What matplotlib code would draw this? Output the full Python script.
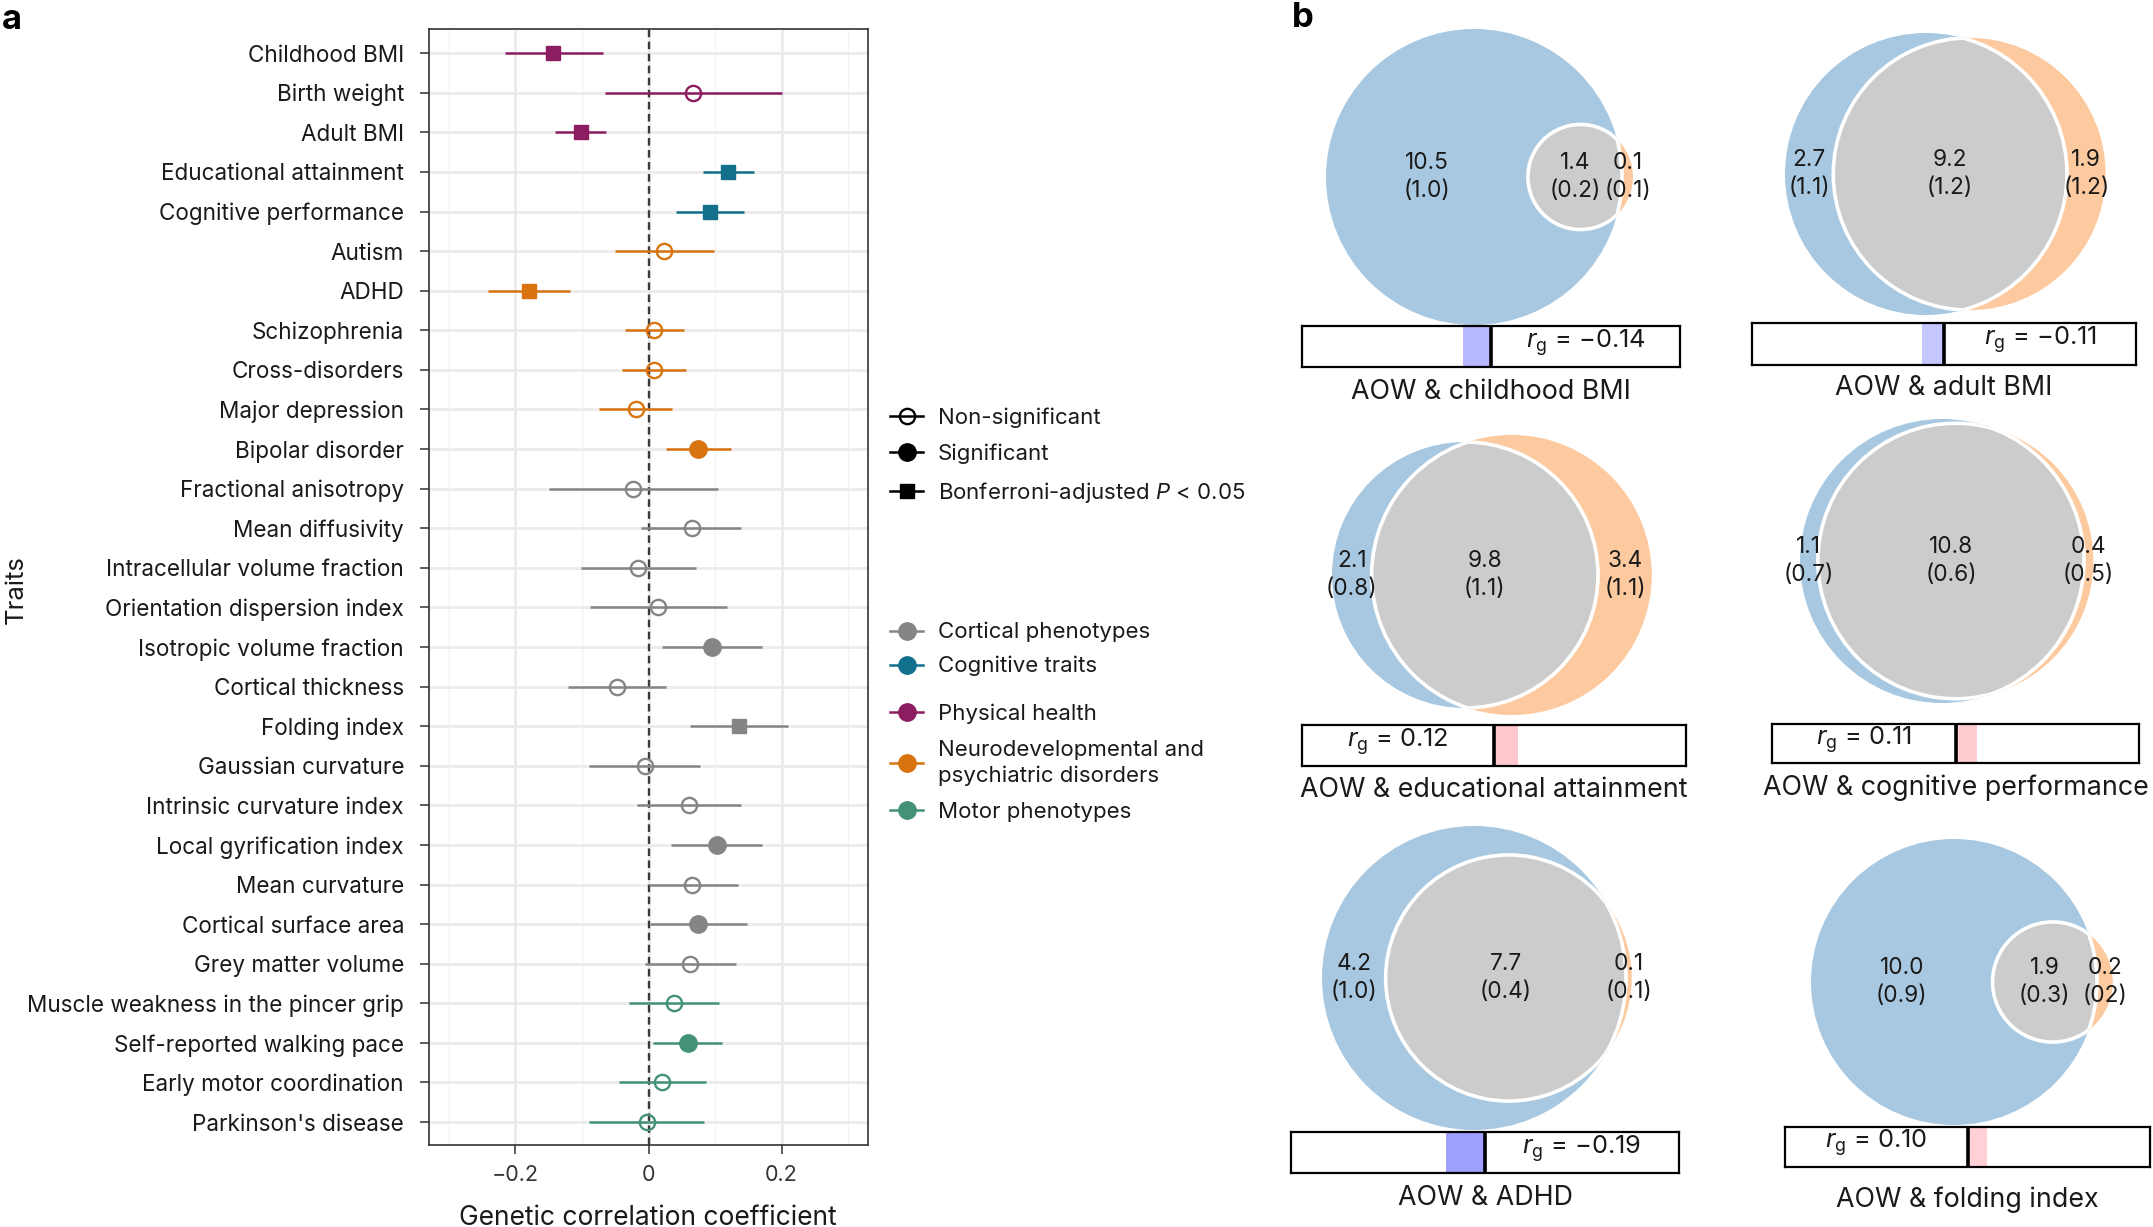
import numpy as np
import matplotlib
matplotlib.use("Agg")
import matplotlib.pyplot as plt
from matplotlib.patches import Circle
from matplotlib.lines import Line2D

plt.rcParams['font.family'] = ['Inter', 'DejaVu Sans']
plt.rcParams['mathtext.fontset'] = 'custom'
plt.rcParams['mathtext.rm'] = 'Inter'
plt.rcParams['mathtext.it'] = 'Inter:italic'

# ----------------------------
# Panel a data (genetic correlations with AOW)
# ----------------------------
traits = ["Childhood BMI", "Birth weight", "Adult BMI", "Educational attainment",
          "Cognitive performance", "Autism", "ADHD", "Schizophrenia", "Cross-disorders",
          "Major depression", "Bipolar disorder", "Fractional anisotropy", "Mean diffusivity",
          "Intracellular volume fraction", "Orientation dispersion index",
          "Isotropic volume fraction", "Cortical thickness", "Folding index",
          "Gaussian curvature", "Intrinsic curvature index", "Local gyrification index",
          "Mean curvature", "Cortical surface area", "Grey matter volume",
          "Muscle weakness in the pincer grip", "Self-reported walking pace",
          "Early motor coordination", "Parkinson's disease"]
estimate = [-0.143, 0.067, -0.102, 0.119, 0.092, 0.024, -0.180, 0.009, 0.008, -0.019,
            0.075, -0.023, 0.065, -0.016, 0.015, 0.095, -0.047, 0.136, -0.006, 0.061,
            0.103, 0.066, 0.075, 0.062, 0.039, 0.059, 0.020, -0.003]
ci_low = [-0.216, -0.066, -0.141, 0.082, 0.042, -0.050, -0.241, -0.035, -0.040, -0.074,
          0.027, -0.150, -0.011, -0.101, -0.088, 0.021, -0.121, 0.063, -0.089, -0.017,
          0.034, 0.000, 0.003, -0.006, -0.029, 0.007, -0.044, -0.089]
ci_high = [-0.068, 0.201, -0.064, 0.158, 0.143, 0.099, -0.118, 0.054, 0.056, 0.035,
           0.124, 0.105, 0.139, 0.071, 0.118, 0.170, 0.026, 0.209, 0.078, 0.139,
           0.171, 0.134, 0.148, 0.132, 0.106, 0.110, 0.086, 0.084]
category = ["phys"] * 3 + ["cog"] * 2 + ["neuro"] * 6 + ["cort"] * 13 + ["motor"] * 4
significance = ["bonf", "ns", "bonf", "bonf", "bonf", "ns", "bonf", "ns", "ns", "ns",
                "sig", "ns", "ns", "ns", "ns", "sig", "ns", "bonf", "ns", "ns",
                "sig", "ns", "sig", "ns", "ns", "sig", "ns", "ns"]

cat_colors = {"cort": "#858585", "cog": "#13708c", "phys": "#8c1d61",
              "neuro": "#d8730f", "motor": "#44917a"}
cat_labels = {"cort": "Cortical phenotypes", "cog": "Cognitive traits",
              "phys": "Physical health",
              "neuro": "Neurodevelopmental and\npsychiatric disorders",
              "motor": "Motor phenotypes"}

# ----------------------------
# Panel b data (Venn diagrams)
# ----------------------------
pair_names = ["AOW & childhood BMI", "AOW & adult BMI", "AOW & educational attainment",
              "AOW & cognitive performance", "AOW & ADHD", "AOW & folding index"]
aow_only = [10.5, 2.7, 2.1, 1.1, 4.2, 10.0]
shared = [1.4, 9.2, 9.8, 10.8, 7.7, 1.9]
trait_only = [0.1, 1.9, 3.4, 0.4, 0.1, 0.2]
aow_only_se = ["(1.0)", "(1.1)", "(0.8)", "(0.7)", "(1.0)", "(0.9)"]
shared_se = ["(0.2)", "(1.2)", "(1.1)", "(0.6)", "(0.4)", "(0.3)"]
trait_only_se = ["(0.1)", "(1.2)", "(1.1)", "(0.5)", "(0.1)", "(02)"]
rg_values = [-0.14, -0.11, 0.12, 0.11, -0.19, 0.10]

W, H = 2153, 1227
fig = plt.figure(figsize=(W / 100, H / 100), dpi=100)
fig.patch.set_facecolor("white")


def px_rect(x0, y0, x1, y1):
    return [x0 / W, 1 - y1 / H, (x1 - x0) / W, (y1 - y0) / H]


# ----------------------------
# Panel a: forest plot
# ----------------------------
ax = fig.add_axes(px_rect(429, 29, 868, 1145))
n = len(traits)
ypos = np.arange(n)
for i in range(n):
    c = cat_colors[category[i]]
    ax.plot([ci_low[i], ci_high[i]], [i, i], color=c, lw=1.8,
            solid_capstyle="butt", zorder=3)
    s = significance[i]
    if s == "ns":
        ax.plot(estimate[i], i, marker="o", ms=11, mfc="none", mec=c, mew=1.7, zorder=4)
    elif s == "sig":
        ax.plot(estimate[i], i, marker="o", ms=12.5, mfc=c, mec=c, zorder=4)
    else:
        ax.plot(estimate[i], i, marker="s", ms=10, mfc=c, mec=c, zorder=4)

ax.axvline(0, color="#3a3a3a", lw=1.7, ls=(0, (3.2, 1.9)), zorder=2)
ax.set_xlim(-0.33, 0.33)
ax.set_ylim(n - 1 + 0.58, -0.61)
ax.set_yticks(ypos)
ax.set_yticklabels(traits, fontsize=16.2, color="#1a1a1a")
ax.set_xticks([-0.2, 0, 0.2])
ax.set_xticklabels(["\u22120.2", "0", "0.2"], fontsize=15.5, color="#333333")
ax.set_xticks([-0.3, -0.1, 0.1, 0.3], minor=True)
ax.tick_params(axis="y", which="major", length=6.5, width=1.1, color="#333333", pad=11.5)
ax.tick_params(axis="x", which="major", length=6.5, width=1.1, color="#333333", pad=8)
ax.tick_params(axis="x", which="minor", length=0)
ax.grid(which="major", color="#ebebeb", lw=2.0)
ax.grid(which="minor", axis="x", color="#f3f3f3", lw=1.0)
ax.set_axisbelow(True)
for sp in ax.spines.values():
    sp.set_color("#333333")
    sp.set_linewidth(1.2)

fig.text(648 / W, 1 - 1218 / H, "Genetic correlation coefficient", fontsize=19,
         ha="center", va="center", color="#1a1a1a")
fig.text(16 / W, 1 - 590 / H, "Traits", fontsize=18.5, rotation=90,
         ha="center", va="center", color="#1a1a1a")
fig.text(2 / W, 1 - 20 / H, "a", fontsize=25, fontweight="bold", ha="left", va="center")
fig.text(1292 / W, 1 - 18 / H, "b", fontsize=25, fontweight="bold", ha="left", va="center")

# legends
leg_kw = dict(loc="upper left", frameon=False, fontsize=16, borderpad=0,
              borderaxespad=0, handlelength=1.5, handletextpad=0.65)
sig_handles = [
    Line2D([], [], color="black", lw=1.8, marker="o", ms=11, mfc="none", mec="black", mew=1.7),
    Line2D([], [], color="black", lw=1.8, marker="o", ms=12.5, mfc="black", mec="black"),
    Line2D([], [], color="black", lw=1.8, marker="s", ms=10, mfc="black", mec="black"),
]
sig_labels = ["Non-significant", "Significant", "Bonferroni-adjusted $P$ < 0.05"]
leg1 = fig.legend(sig_handles, sig_labels, bbox_to_anchor=(890 / W, 1 - 407 / H),
                  labelspacing=0.72, **leg_kw)


def cat_handle(key):
    return Line2D([], [], color=cat_colors[key], lw=1.8, marker="o", ms=12.5,
                  mfc=cat_colors[key], mec=cat_colors[key])


leg2 = fig.legend([cat_handle(k) for k in ["cort", "cog"]],
                  [cat_labels[k] for k in ["cort", "cog"]],
                  bbox_to_anchor=(890 / W, 1 - 622 / H), labelspacing=0.6, **leg_kw)
leg3 = fig.legend([cat_handle(k) for k in ["phys", "neuro", "motor"]],
                  [cat_labels[k] for k in ["phys", "neuro", "motor"]],
                  bbox_to_anchor=(890 / W, 1 - 703 / H), labelspacing=0.72, **leg_kw)
for lg in (leg1, leg2, leg3):
    for t in lg.get_texts():
        t.set_color("#1a1a1a")
        t.set_linespacing(1.35)

# ----------------------------
# Panel b: area-proportional Venn diagrams
# ----------------------------
def lens_area(r1, r2, d):
    if d >= r1 + r2:
        return 0.0
    if d <= abs(r1 - r2):
        return np.pi * min(r1, r2) ** 2
    a1 = r1 ** 2 * np.arccos((d ** 2 + r1 ** 2 - r2 ** 2) / (2 * d * r1))
    a2 = r2 ** 2 * np.arccos((d ** 2 + r2 ** 2 - r1 ** 2) / (2 * d * r2))
    a3 = 0.5 * np.sqrt((-d + r1 + r2) * (d + r1 - r2) * (d - r1 + r2) * (d + r1 + r2))
    return a1 + a2 - a3


def centre_distance(r1, r2, target):
    lo, hi = abs(r1 - r2), r1 + r2
    for _ in range(80):
        mid = 0.5 * (lo + hi)
        if lens_area(r1, r2, mid) > target:
            lo = mid
        else:
            hi = mid
    return 0.5 * (lo + hi)


# cell layout in pixels: AOW circle centre, its radius, bar box, caption y
venn_centre = [(1474, 177), (1926, 174), (1465, 575), (1942, 561), (1474, 978), (1954, 982)]
venn_radius_px = [148, 141, 133, 142, 152, 143]
bar_box = [(1302, 326, 1680, 367), (1752, 323, 2136, 365), (1302, 725, 1686, 766),
           (1772, 724, 2139, 763), (1291, 1132, 1679, 1173), (1785, 1127, 2150, 1167)]
caption_y = [392, 388, 790, 788, 1198, 1200]

blue, orange, grey = "#a7c8e0", "#fdca9f", "#cccccc"
half_w, half_h = 240, 175

for k in range(6):
    a_tot = aow_only[k] + shared[k]
    t_tot = trait_only[k] + shared[k]
    r1 = np.sqrt(a_tot / np.pi)
    r2 = np.sqrt(t_tot / np.pi)
    d = centre_distance(r1, r2, shared[k])
    scale = venn_radius_px[k] / r1
    cx, cy = venn_centre[k]
    axv = fig.add_axes(px_rect(cx - half_w, cy - half_h, cx + half_w, cy + half_h))
    axv.set_xlim(-half_w / scale, half_w / scale)
    axv.set_ylim(-half_h / scale, half_h / scale)
    axv.axis("off")
    axv.patch.set_visible(False)

    c_aow = Circle((0, 0), r1, fc=blue, ec="none", zorder=1)
    c_tr = Circle((d, 0), r2, fc=orange, ec="none", zorder=1)
    axv.add_patch(c_aow)
    axv.add_patch(c_tr)
    inter = Circle((d, 0), r2, fc=grey, ec="none", zorder=2)
    axv.add_patch(inter)
    inter.set_clip_path(Circle((0, 0), r1, transform=axv.transData))
    edge1 = Circle((d, 0), r2, fill=False, ec="white", lw=2.6, zorder=3)
    axv.add_patch(edge1)
    edge1.set_clip_path(Circle((0, 0), r1, transform=axv.transData))
    edge2 = Circle((0, 0), r1, fill=False, ec="white", lw=2.6, zorder=3)
    axv.add_patch(edge2)
    edge2.set_clip_path(Circle((d, 0), r2, transform=axv.transData))

    x_aow = 0.5 * (-r1 + (d - r2))
    x_sh = 0.5 * ((d - r2) + min(r1, d + r2))
    x_tr = 0.5 * (r1 + d + r2)
    txt_kw = dict(ha="center", va="center", fontsize=16.3, linespacing=1.4,
                  color="#1a1a1a", zorder=5)
    axv.text(x_aow, 0, f"{aow_only[k]:.1f}\n{aow_only_se[k]}", **txt_kw)
    axv.text(x_sh, 0, f"{shared[k]:.1f}\n{shared_se[k]}", **txt_kw)
    axv.text(x_tr, 0, f"{trait_only[k]:.1f}\n{trait_only_se[k]}", **txt_kw)

    # genetic correlation bar
    x0, y0, x1, y1 = bar_box[k]
    axb = fig.add_axes(px_rect(x0, y0, x1, y1))
    axb.set_facecolor("white")
    rg = rg_values[k]
    alpha = min(1.0, 3.3 * abs(rg))
    col = (0.4, 0.4, 1.0, alpha) if rg < 0 else (1.0, 0.45, 0.52, alpha)
    axb.barh([0.5], [rg], height=1.0, left=0, color=col, zorder=1)
    axb.axvline(0, color="black", lw=2.6, zorder=2)
    axb.set_xlim(-0.95, 0.95)
    axb.set_ylim(0, 1)
    axb.set_xticks([])
    axb.set_yticks([])
    for sp in axb.spines.values():
        sp.set_color("black")
        sp.set_linewidth(1.6)
    rg_txt = f"{rg:.2f}".replace("-", "\u2212")
    axb.text(0.75 if rg < 0 else 0.25, 0.6, r"$r_{\mathrm{g}}$ = " + rg_txt,
             transform=axb.transAxes, ha="center", va="center", fontsize=18.3,
             color="#1a1a1a")
    fig.text((x0 + x1) / 2 / W, 1 - caption_y[k] / H, pair_names[k], ha="center",
             va="center", fontsize=19.3, color="#1a1a1a")

fig.savefig("out.png", dpi=100, facecolor="white")
